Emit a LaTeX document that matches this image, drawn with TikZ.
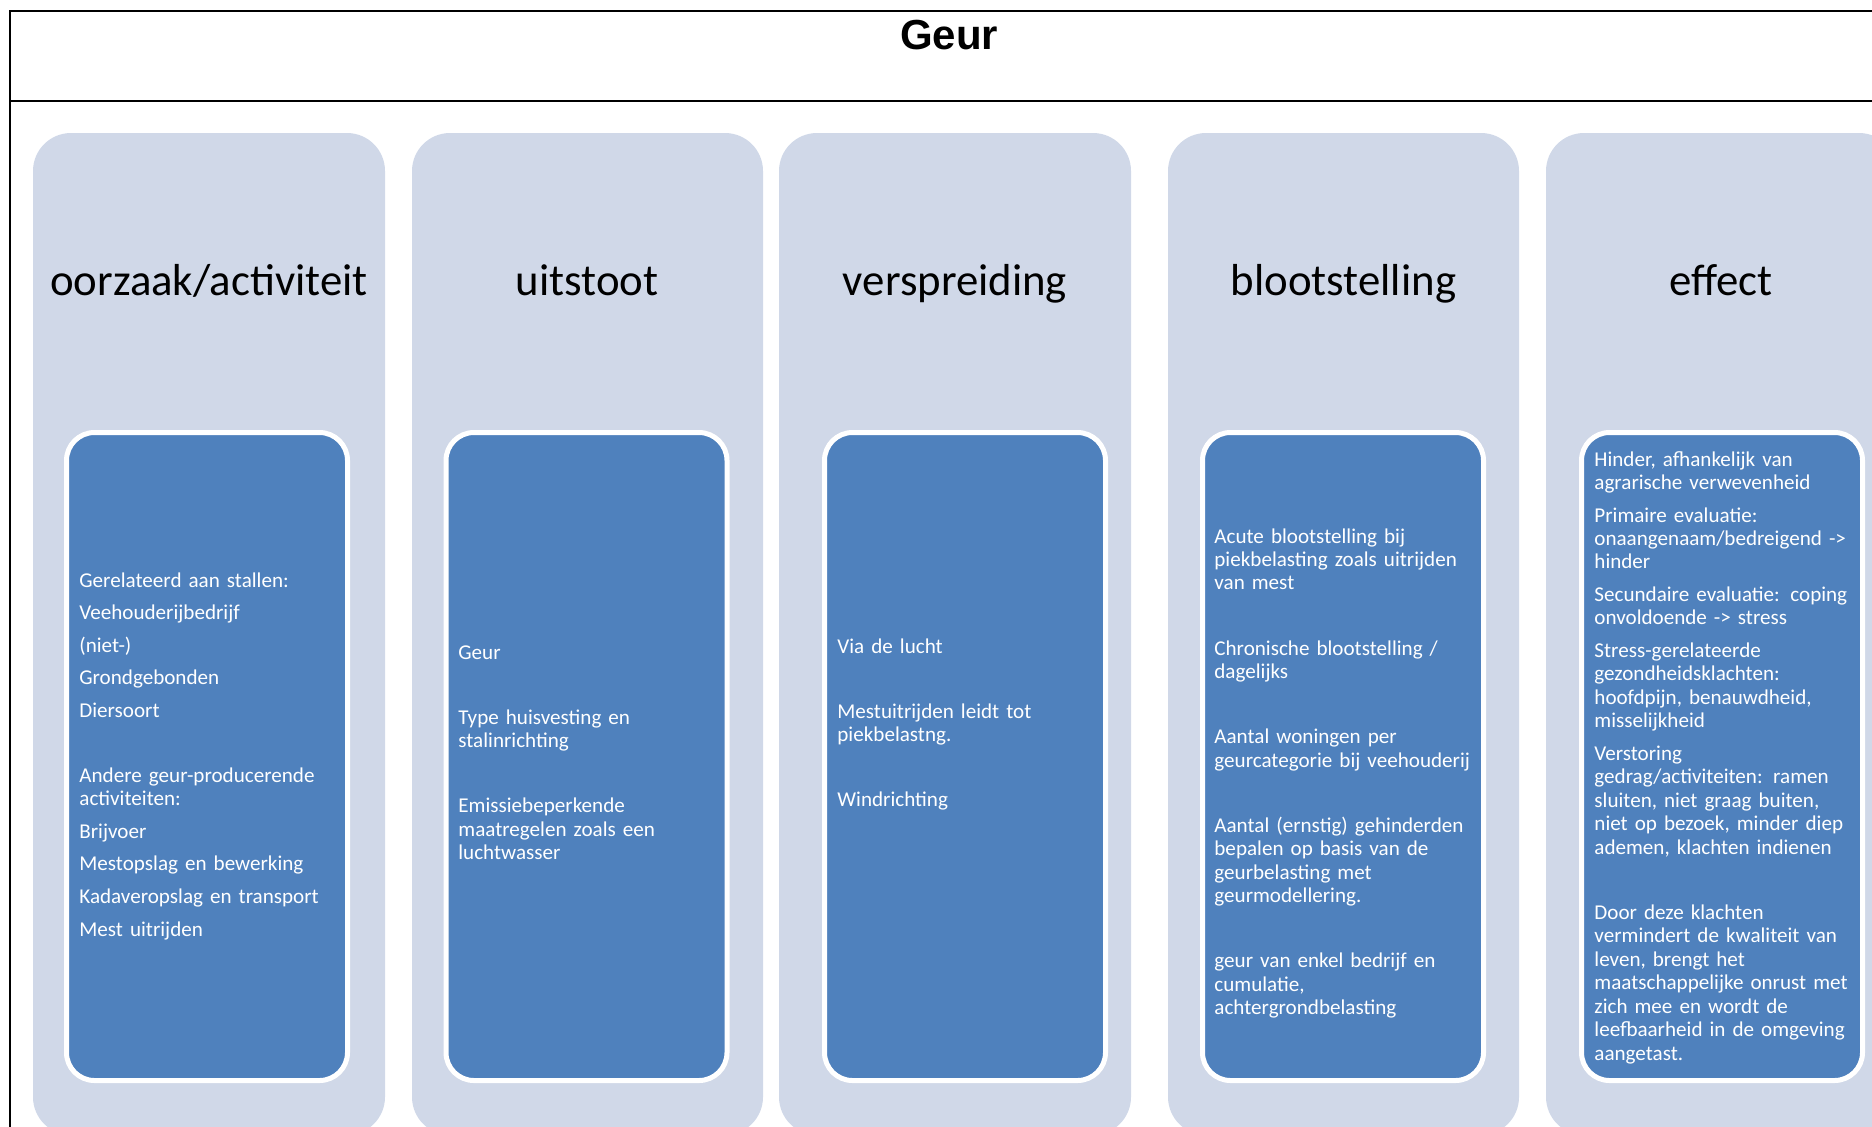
\documentclass[tikz,border=0pt]{standalone}
\usepackage{fontspec}
\setmainfont{Carlito}
\newfontfamily\titlefont{Liberation Sans}
\usepackage{tikz}
\usetikzlibrary{positioning}
\definecolor{colgrey}{HTML}{D0D8E8}
\definecolor{panelblue}{HTML}{4F81BD}

\begin{document}
\begin{tikzpicture}[
  x=0.5pt, y=-0.5pt,
  frame/.style={line width=1.2pt},
  column/.style={fill=colgrey, rounded corners=19pt},
  heading/.style={anchor=base, inner sep=0pt, font=\fontsize{22.4pt}{27pt}\selectfont},
  panel/.style={draw=white, line width=2.5pt, fill=panelblue, rounded corners=14pt,
    minimum width=140.5pt, minimum height=324pt, inner sep=0pt},
  itemtext/.style={anchor=base west, inner sep=0pt, text width=136pt, align=left, text=white,
    font=\fontsize{10.55pt}{11.73pt}\selectfont, execute at begin node={\setlength{\parskip}{4.55pt}}}
]
\useasboundingbox (0,0) rectangle (1872,1126);
\clip (0,0) rectangle (1872,1126);

% ===== Frame and title =====
\draw[frame] (1880,11) -- (10,11) -- (10,1140);
\draw[frame] (10,101) -- (1880,101);
\node[anchor=base, inner sep=0pt, font=\titlefont\fontsize{21pt}{24pt}\selectfont\bfseries] (title) at (949,49) {Geur};

% ===== Column backgrounds =====
\fill[column] (33,133) rectangle (385,1135);
\fill[column] (412,133) rectangle (763,1135);
\fill[column] (779,133) rectangle (1131,1135);
\fill[column] (1168,133) rectangle (1519,1135);
\fill[column] (1546,133) rectangle (1897,1135);

% Column headings
\node[heading] (hcause) at (209,295) {oorzaak/activiteit};
\node[heading] (hemis) at (587,295) {uitstoot};
\node[heading] (hspread) at (955,295) {verspreiding};
\node[heading] (hexpo) at (1343.5,295) {blootstelling};
\node[heading] (heffect) at (1721,295) {effect};

% ===== Blue panels =====
\node[panel] (cause) at (207,756.5) {};
\node[panel] (emis) at (586.5,756.5) {};
\node[panel] (spread) at (965,756.5) {};
\node[panel] (expo) at (1343,756.5) {};
\node[panel] (effect) at (1722,756.5) {};

% Panel 1: oorzaak/activiteit
\node[itemtext] (causetxt) at (79,587) {Gerelateerd aan stallen:\par Veehouderijbedrijf\par (niet-)\par Grondgebonden\par Diersoort\par \mbox{}\par Andere geur-producerende\\activiteiten:\par Brijvoer\par Mestopslag en bewerking\par Kadaveropslag en transport\par Mest uitrijden};

% Panel 2: uitstoot
\node[itemtext] (emistxt) at (458,659) {Geur\par \mbox{}\par Type huisvesting en\\stalinrichting\par \mbox{}\par Emissiebeperkende\\maatregelen zoals een\\luchtwasser};

% Panel 3: verspreiding
\node[itemtext] (spreadtxt) at (837,653) {Via de lucht\par \mbox{}\par Mestuitrijden leidt tot\\piekbelastng.\par \mbox{}\par Windrichting};

% Panel 4: blootstelling
\node[itemtext] (expotxt) at (1214,543) {Acute blootstelling bij\\piekbelasting zoals uitrijden\\van mest\par \mbox{}\par Chronische blootstelling /\\dagelijks\par \mbox{}\par Aantal woningen per\\geurcategorie bij veehouderij\par \mbox{}\par Aantal (ernstig) gehinderden\\bepalen op basis van de\\geurbelasting met\\geurmodellering.\par \mbox{}\par geur van enkel bedrijf en\\cumulatie,\\achtergrondbelasting};

% Panel 5: effect
\node[itemtext] (effecttxt) at (1594,466) {Hinder, afhankelijk van\\agrarische verwevenheid\par Primaire evaluatie:\\onaangenaam/bedreigend ->\\hinder\par Secundaire evaluatie: coping\\onvoldoende -> stress\par Stress-gerelateerde\\gezondheidsklachten:\\hoofdpijn, benauwdheid,\\misselijkheid\par Verstoring\\gedrag/activiteiten: ramen\\sluiten, niet graag buiten,\\niet op bezoek, minder diep\\ademen, klachten indienen\par \mbox{}\par Door deze klachten\\vermindert de kwaliteit van\\leven, brengt het\\maatschappelijke onrust met\\zich mee en wordt de\\leefbaarheid in de omgeving\\aangetast.};

\end{tikzpicture}
\end{document}
